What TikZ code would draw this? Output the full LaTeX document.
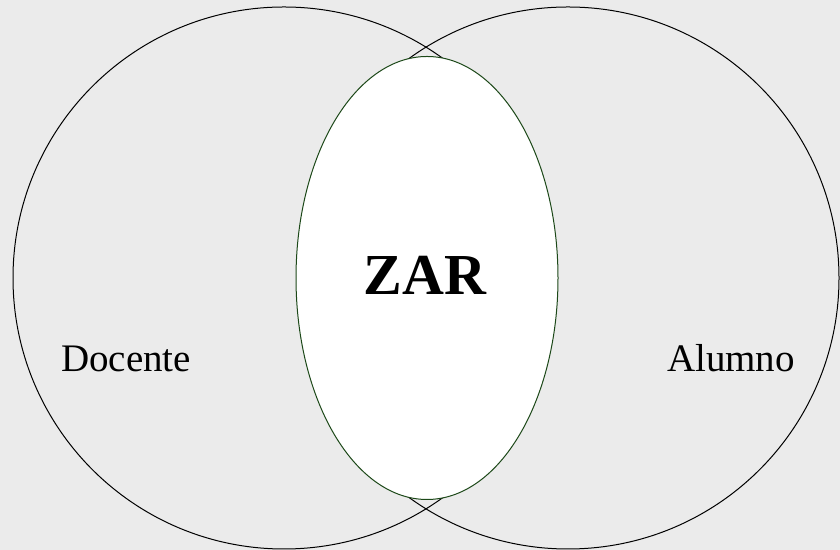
\documentclass[tikz,border=0pt]{standalone}
\usepackage{fontspec}
\setmainfont{Liberation Serif}
\usetikzlibrary{shapes.geometric}
\definecolor{fondo}{RGB}{235,235,235}
\definecolor{verdeoscuro}{RGB}{28,72,24}

\begin{document}
\begin{tikzpicture}[x=0.5pt,y=0.5pt]
  \tikzstyle{conjunto}=[draw=black, line width=0.5pt, circle, minimum size=271pt, inner sep=0pt]
  \tikzstyle{interseccion}=[draw=verdeoscuro, fill=white, line width=0.5pt, ellipse, minimum width=131pt, minimum height=221.5pt, inner sep=0pt]
  \tikzstyle{etiqueta}=[anchor=base, inner sep=0pt, font=\fontsize{19.5}{23}\selectfont]
  \fill[fondo] (0,0) rectangle (840,550);
  \useasboundingbox (0,0) rectangle (840,550);
  \node[conjunto] (docente) at (284,272) {};
  \node[conjunto] (alumno) at (568,272) {};
  \node[interseccion] (zar) at (427,272) {};
  \node[etiqueta] (tdocente) at (126,178) {Docente};
  \node[etiqueta] (talumno) at (731,178) {Alumno};
  \node[etiqueta, font=\bfseries\fontsize{29}{34}\selectfont] (tzar) at (425,255) {ZAR};
\end{tikzpicture}
\end{document}
